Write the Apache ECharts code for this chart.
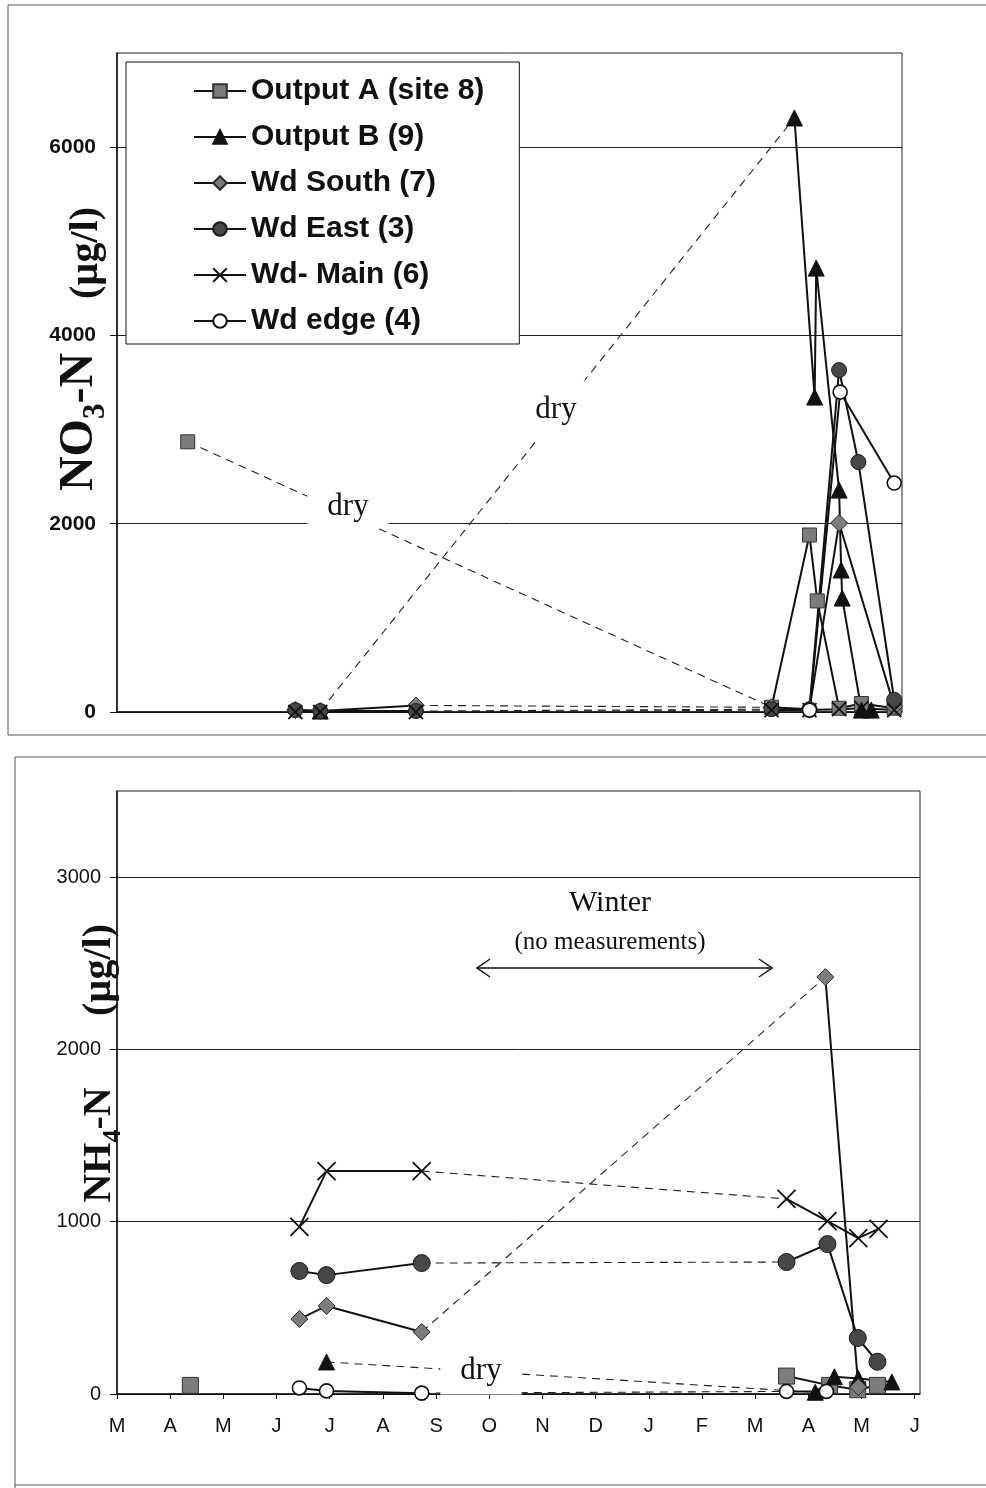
<!DOCTYPE html>
<html>
<head>
<meta charset="utf-8">
<script src="https://cdn.jsdelivr.net/npm/echarts@6/dist/echarts.min.js"></script>
<style>
html, body { margin: 0; padding: 0; background: #fff; }
#chart { width: 986px; height: 1488px; }
</style>
</head>
<body>
<div id="chart"></div>
<script>
// x values are months counted from 1 March (0) to 1 June of the next year (15)
const monthLabels = ['M', 'A', 'M', 'J', 'J', 'A', 'S', 'O', 'N', 'D', 'J', 'F', 'M', 'A', 'M', 'J'];
const monthTicks = [0, 1, 2, 3, 4, 5, 6, 7, 8, 9, 10, 11, 12, 13, 14, 15];

const siteNames = ['Output A (site 8)', 'Output B (9)', 'Wd South (7)', 'Wd East (3)', 'Wd- Main (6)', 'Wd edge (4)'];

const no3Ticks = [0, 2000, 4000, 6000];
const nh4Ticks = [0, 1000, 2000, 3000];

// [month, µg/l]; null = dry spell bridged with a dashed line, '-' = gap left open
// NO3-N
const no3OutputA = [[1.36, 2870], null, [12.59, 50], [13.32, 1880], [13.47, 1180], [13.89, 40], [14.32, 90], [14.95, 40]];
const no3OutputB = [[3.91, 10], null, [13.03, 6310], [13.42, 3345], [13.45, 4715], [13.89, 2357], [13.93, 1508], [13.95, 1210], [14.32, 20], [14.51, 20]];
const no3WdSouth = [[3.43, 20], [3.91, 10], [5.75, 70], null, [12.59, 50], [13.32, 30], [13.89, 2007], [14.95, 60]];
const no3WdEast = [[3.43, 20], [3.91, 10], [5.75, 10], null, [12.59, 30], [13.32, 30], [13.89, 3632], [14.26, 2655], [14.95, 130]];
const no3WdMain = [[3.43, 0], [3.91, 0], [5.75, 0], null, [12.59, 20], [13.32, 20], [13.89, 30], [14.32, 40], [14.95, 20]];
const no3WdEdge = [[13.32, 20], [13.91, 3398], [14.95, 2432]];

// NH4-N
const nh4OutputA = [[1.38, 50], '-', [12.59, 104], [13.4, 50], [13.93, 25], [14.3, 50]];
const nh4OutputB = [[3.94, 186], null, [13.13, 10], [13.49, 100], [13.94, 90], [14.57, 70]];
const nh4WdSouth = [[3.43, 435], [3.94, 511], [5.73, 360], null, [13.32, 2420], [13.94, 40]];
const nh4WdEast = [[3.43, 714], [3.94, 690], [5.73, 760], null, [12.59, 766], [13.36, 870], [13.93, 325], [14.3, 187]];
const nh4WdMain = [[3.43, 970], [3.94, 1294], [5.73, 1294], null, [12.59, 1132], [13.36, 1004], [13.94, 905], [14.32, 958]];
const nh4WdEdge = [[3.43, 35], [3.94, 18], [5.73, 5], null, [12.59, 15], [13.34, 15]];

const no3Sets = [no3OutputA, no3OutputB, no3WdSouth, no3WdEast, no3WdMain, no3WdEdge];
const nh4Sets = [nh4OutputA, nh4OutputB, nh4WdSouth, nh4WdEast, nh4WdMain, nh4WdEdge];

// marker look for each site (size per panel: [upper, lower])
const CROSS = 'path://M0,0L20,20M20,0L0,20';
const markerStyles = [
  { symbol: 'rect', size: [14, 16], fill: '#7c7c7c', stroke: '#333', bw: 1 },
  { symbol: 'triangle', size: [16, 16], fill: '#121212', stroke: '#121212', bw: 1 },
  { symbol: 'diamond', size: [17, 17], fill: '#7c7c7c', stroke: '#2a2a2a', bw: 1 },
  { symbol: 'circle', size: [15, 17], fill: '#474747', stroke: '#1a1a1a', bw: 1 },
  { symbol: CROSS, size: [14, 18], fill: '#111', stroke: '#111', bw: 1.8 },
  { symbol: 'circle', size: [14, 14], fill: '#fff', stroke: '#111', bw: 1.6 }
];

const SANS = '"Liberation Sans", Arial, sans-serif';
const SERIF = '"Liberation Serif", "Times New Roman", serif';

function buildSeries(name, points, gi, st) {
  const line = [];
  const bridges = [];
  let prev = null;
  let bridgeNext = false;
  points.forEach(p => {
    if (p === null) { line.push(['-', '-']); bridgeNext = true; return; }
    if (p === '-') { line.push(['-', '-']); bridgeNext = false; prev = null; return; }
    if (bridgeNext && prev) bridges.push([prev, p]);
    bridgeNext = false;
    line.push(p);
    prev = p;
  });
  const out = [{
    name: name, type: 'line', xAxisIndex: gi, yAxisIndex: gi, data: line,
    symbol: st.symbol, symbolSize: st.size[gi], connectNulls: false,
    itemStyle: { color: st.fill, borderColor: st.stroke, borderWidth: st.bw },
    lineStyle: { color: '#111', width: 2 },
    emphasis: { disabled: true }, z: 3, animation: false
  }];
  bridges.forEach((b, k) => out.push({
    name: name + ' dry ' + gi + '-' + k, type: 'line', xAxisIndex: gi, yAxisIndex: gi, data: b,
    symbol: 'none', lineStyle: { color: '#222', width: 1.1, type: [8, 6] },
    silent: true, z: 2, animation: false
  }));
  return out;
}

const series = [];
siteNames.forEach((n, i) => series.push(...buildSeries(n, no3Sets[i], 0, markerStyles[i])));
siteNames.forEach((n, i) => series.push(...buildSeries(n, nh4Sets[i], 1, markerStyles[i])));

function frameLine(x1, y1, x2, y2) {
  return { type: 'line', z: 100, shape: { x1, y1, x2, y2 }, style: { stroke: '#555', lineWidth: 1 } };
}
function label(text, x, y, size, pad) {
  return {
    type: 'text', z: 100, x, y,
    style: { text, fontFamily: SERIF, fontSize: size, fill: '#111', align: 'center', verticalAlign: 'middle',
      backgroundColor: pad ? '#fff' : 'transparent', padding: pad || 0 }
  };
}
function axisTitle(text, x, y, size) {
  return {
    type: 'text', z: 100, x, y, rotation: Math.PI / 2,
    style: {
      text, align: 'center', verticalAlign: 'middle', fill: '#111',
      rich: {
        m: { fontFamily: SERIF, fontWeight: 'bold', fontSize: size, lineHeight: size * 1.3, verticalAlign: 'middle' },
        s: { fontFamily: SERIF, fontWeight: 'bold', fontSize: Math.round(size * 0.65), lineHeight: size * 1.3, verticalAlign: 'bottom' }
      }
    }
  };
}

const option = {
  backgroundColor: '#fff',
  animation: false,
  legend: {
    data: siteNames, orient: 'vertical', left: 126, top: 62,
    padding: [12, 35, 6, 67], itemGap: 12, itemWidth: 52, itemHeight: 17,
    backgroundColor: '#fff', borderColor: '#111', borderWidth: 1,
    selectedMode: false, z: 10,
    textStyle: { fontFamily: SANS, fontWeight: 'bold', fontSize: 30, lineHeight: 34, color: '#111' }
  },
  grid: [
    { left: 117, top: 53, width: 785, height: 659, show: true, borderColor: '#222', borderWidth: 1 },
    { left: 117, top: 791, width: 803, height: 603, show: true, borderColor: '#222', borderWidth: 1 }
  ],
  xAxis: [
    {
      type: 'value', gridIndex: 0, min: 0, max: 15.1,
      axisLine: { lineStyle: { color: '#111', width: 1.5 } },
      axisTick: { show: false }, axisLabel: { show: false }, splitLine: { show: false }
    },
    {
      type: 'value', gridIndex: 1, min: 0, max: 15.1, interval: 1,
      axisLine: { lineStyle: { color: '#111', width: 1.5 } },
      axisTick: { length: 5, customValues: monthTicks, lineStyle: { color: '#111' } },
      axisLabel: {
        customValues: monthTicks, margin: 22, fontFamily: SANS, fontSize: 20, color: '#111',
        formatter: v => (Math.abs(v - Math.round(v)) < 0.01 ? monthLabels[Math.round(v)] : '')
      },
      splitLine: { show: false }
    }
  ],
  yAxis: [
    {
      type: 'value', gridIndex: 0, min: 0, max: 7000, interval: 2000,
      axisLine: { show: true, lineStyle: { color: '#111', width: 1.5 } },
      axisTick: { length: 7, customValues: no3Ticks, lineStyle: { color: '#111' } },
      axisLabel: { customValues: no3Ticks, margin: 21, fontFamily: SANS, fontWeight: 'bold', fontSize: 21, color: '#111', formatter: v => String(v) },
      splitLine: { show: true, lineStyle: { color: '#222', width: 1 } }
    },
    {
      type: 'value', gridIndex: 1, min: 0, max: 3500, interval: 1000,
      axisLine: { show: true, lineStyle: { color: '#111', width: 1.5 } },
      axisTick: { length: 7, customValues: nh4Ticks, lineStyle: { color: '#111' } },
      axisLabel: { customValues: nh4Ticks, margin: 16, fontFamily: SANS, fontSize: 20, color: '#111', formatter: v => String(v) },
      splitLine: { show: true, lineStyle: { color: '#222', width: 1 } }
    }
  ],
  series,
  graphic: [
    // page frames around the two panels
    frameLine(8, 5, 986, 5), frameLine(8, 5, 8, 735), frameLine(8, 735, 986, 735),
    frameLine(15, 757, 986, 757), frameLine(15, 757, 15, 1488), frameLine(15, 1485, 986, 1485),
    // axis titles
    axisTitle('{m|NO}{s|3}{m|-N}', 80, 422, 48),
    axisTitle('{m|(µg/l)}', 87, 253, 40),
    axisTitle('{m|NH}{s|4}{m|-N}', 100, 1145, 40),
    axisTitle('{m|(µg/l)}', 100, 970, 40),
    // dry-spell notes
    label('dry', 348, 507, 31, [6, 20, 6, 20]),
    label('dry', 556, 410, 31, [14, 12, 14, 12]),
    label('dry', 481, 1371, 31, [8, 20, 8, 20]),
    // winter gap
    label('Winter', 610, 903, 30),
    label('(no measurements)', 610, 942, 25),
    { type: 'line', z: 100, shape: { x1: 477, y1: 968, x2: 772, y2: 968 }, style: { stroke: '#111', lineWidth: 1.5 } },
    { type: 'polyline', z: 100, shape: { points: [[490, 959], [477, 968], [490, 977]] }, style: { stroke: '#111', lineWidth: 1.5, fill: null } },
    { type: 'polyline', z: 100, shape: { points: [[759, 959], [772, 968], [759, 977]] }, style: { stroke: '#111', lineWidth: 1.5, fill: null } }
  ]
};

const chart = echarts.init(document.getElementById('chart'));
chart.setOption(option);
</script>
</body>
</html>
